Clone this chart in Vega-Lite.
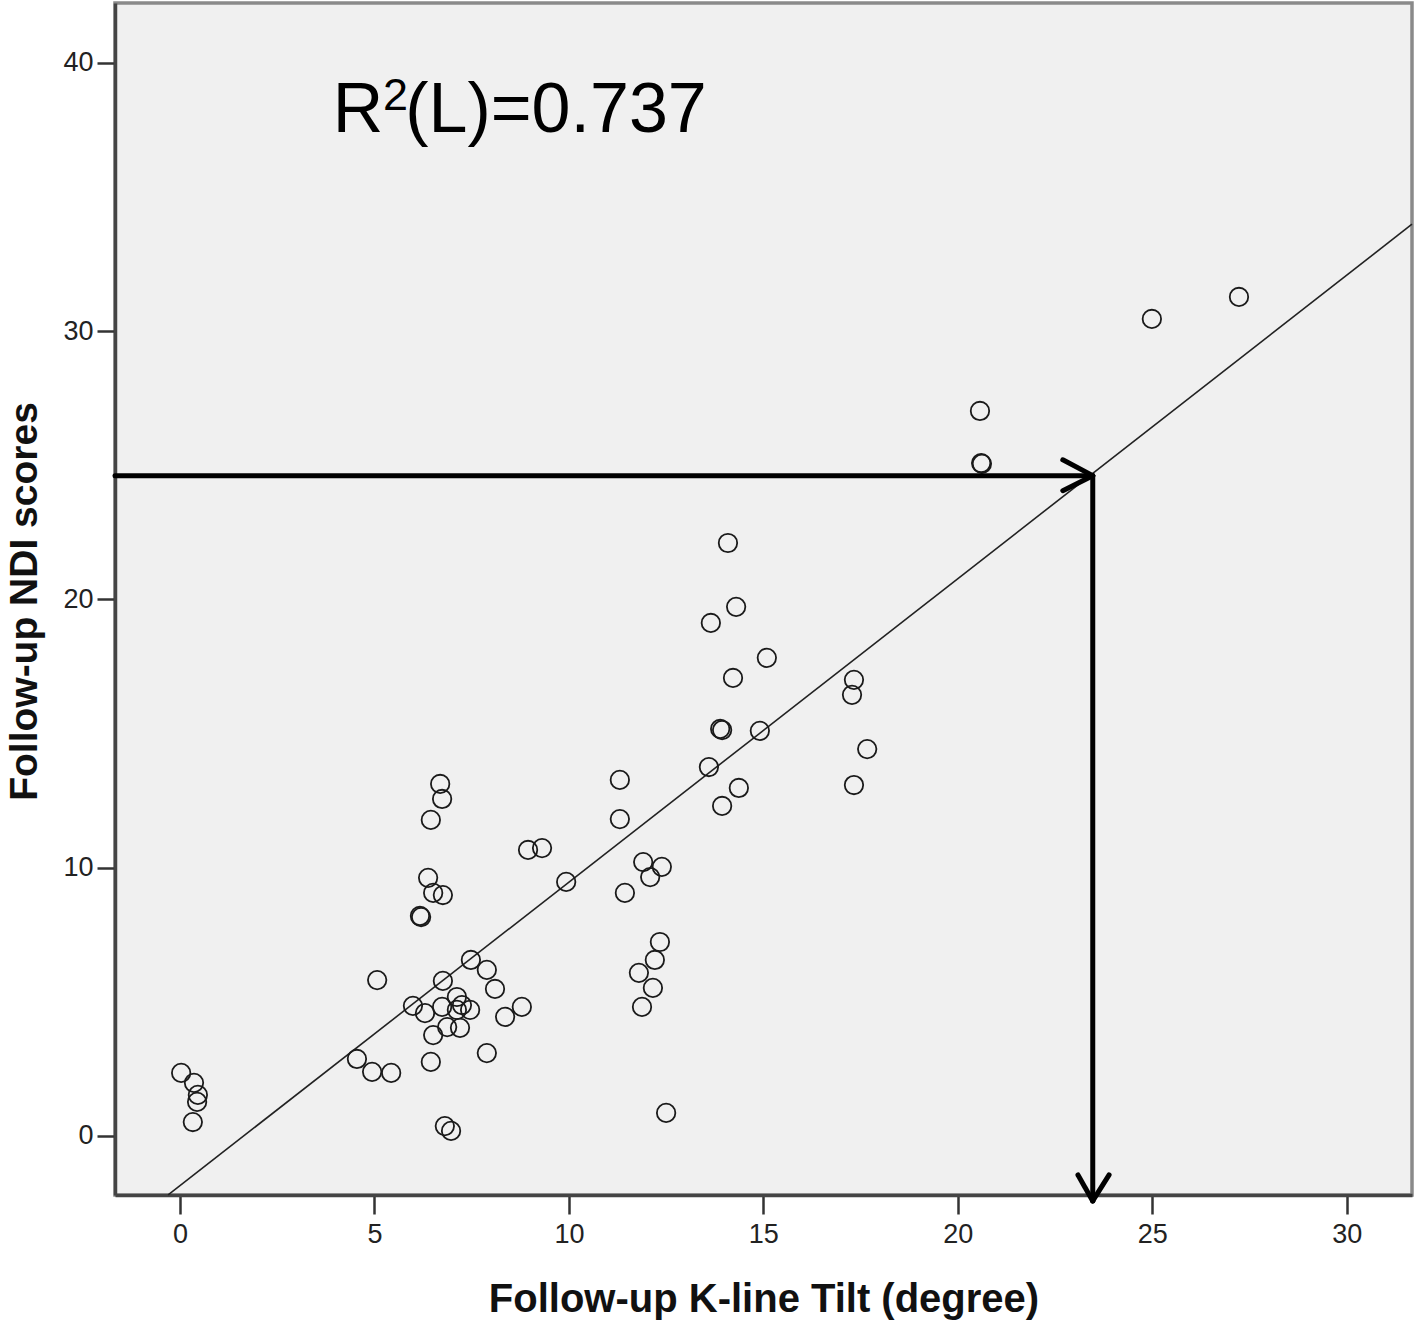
{
  "$schema": "https://vega.github.io/schema/vega-lite/v6.json",
  "width": 1297,
  "height": 1192,
  "autosize": {"type": "none"},
  "padding": {"left": 115, "top": 3, "right": 6, "bottom": 125},
  "background": "white",
  "config": {
    "view": {"fill": "#f0f0f0", "stroke": "#8a8a8a", "strokeWidth": 3.5},
    "font": "Liberation Sans"
  },
  "datasets": {
    "points": [
      {"x": 27.23, "y": 31.27}, {"x": 24.99, "y": 30.45}, {"x": 20.57, "y": 27.02},
      {"x": 20.6, "y": 25.08}, {"x": 20.62, "y": 25.05}, {"x": 14.09, "y": 22.1},
      {"x": 14.3, "y": 19.72}, {"x": 13.65, "y": 19.12}, {"x": 15.09, "y": 17.82},
      {"x": 14.22, "y": 17.07}, {"x": 17.33, "y": 17.0}, {"x": 17.28, "y": 16.44},
      {"x": 13.89, "y": 15.17}, {"x": 13.94, "y": 15.13}, {"x": 14.91, "y": 15.1},
      {"x": 17.67, "y": 14.42}, {"x": 13.6, "y": 13.75}, {"x": 11.31, "y": 13.27},
      {"x": 6.69, "y": 13.12}, {"x": 17.33, "y": 13.08}, {"x": 14.37, "y": 12.97},
      {"x": 6.74, "y": 12.56}, {"x": 13.94, "y": 12.3}, {"x": 6.45, "y": 11.78},
      {"x": 11.31, "y": 11.81}, {"x": 8.95, "y": 10.66}, {"x": 9.31, "y": 10.73},
      {"x": 9.93, "y": 9.47}, {"x": 11.91, "y": 10.21}, {"x": 12.39, "y": 10.03},
      {"x": 12.09, "y": 9.65}, {"x": 6.38, "y": 9.62}, {"x": 6.51, "y": 9.06},
      {"x": 6.76, "y": 8.98}, {"x": 11.44, "y": 9.06}, {"x": 6.17, "y": 8.2},
      {"x": 6.2, "y": 8.16}, {"x": 7.48, "y": 6.56}, {"x": 12.34, "y": 7.23},
      {"x": 7.89, "y": 6.19}, {"x": 12.21, "y": 6.56}, {"x": 6.76, "y": 5.78},
      {"x": 5.07, "y": 5.81}, {"x": 11.8, "y": 6.08}, {"x": 8.1, "y": 5.48},
      {"x": 12.16, "y": 5.52}, {"x": 5.99, "y": 4.85}, {"x": 8.79, "y": 4.81},
      {"x": 8.36, "y": 4.44}, {"x": 11.88, "y": 4.81}, {"x": 6.3, "y": 4.58},
      {"x": 6.74, "y": 4.81}, {"x": 7.12, "y": 5.18}, {"x": 7.12, "y": 4.7},
      {"x": 7.25, "y": 4.88}, {"x": 7.46, "y": 4.7}, {"x": 7.2, "y": 4.03},
      {"x": 6.87, "y": 4.06}, {"x": 6.51, "y": 3.76}, {"x": 7.89, "y": 3.09},
      {"x": 6.45, "y": 2.76}, {"x": 4.55, "y": 2.87}, {"x": 4.94, "y": 2.39},
      {"x": 5.43, "y": 2.35}, {"x": 6.81, "y": 0.37}, {"x": 6.97, "y": 0.19},
      {"x": 12.5, "y": 0.86}, {"x": 0.03, "y": 2.35}, {"x": 0.36, "y": 1.98},
      {"x": 0.46, "y": 1.53}, {"x": 0.44, "y": 1.27}, {"x": 0.33, "y": 0.52}
    ],
    "fit": [{"x": -0.305, "y": -2.195, "x2": 31.679, "y2": 33.98}],
    "arrows": [
      {"x": -1.671, "y": 24.61, "x2": 23.47, "y2": 24.61},
      {"x": 23.47, "y": 24.61, "x2": 23.47, "y2": -2.42},
      {"x": 22.7, "y": 25.2, "x2": 23.47, "y2": 24.61},
      {"x": 22.7, "y": 24.05, "x2": 23.47, "y2": 24.61},
      {"x": 23.09, "y": -1.45, "x2": 23.47, "y2": -2.42},
      {"x": 23.89, "y": -1.45, "x2": 23.47, "y2": -2.42}
    ]
  },
  "encoding": {
    "x": {
      "field": "x",
      "type": "quantitative",
      "scale": {"domain": [-1.671, 31.679], "nice": false, "zero": false},
      "axis": {
        "values": [0, 5, 10, 15, 20, 25, 30],
        "title": "Follow-up K-line Tilt (degree)",
        "titleFontSize": 40,
        "titleFontWeight": "bold",
        "titleColor": "#111",
        "titleBaseline": "alphabetic",
        "titleY": 116,
        "titleX": 648.5,
        "titleAlign": "center",
        "labelFontSize": 27,
        "labelColor": "#222",
        "labelPadding": 7,
        "tickSize": 19,
        "tickWidth": 2.5,
        "tickColor": "#333",
        "domainColor": "#444",
        "domainWidth": 3.5,
        "grid": false
      }
    },
    "y": {
      "field": "y",
      "type": "quantitative",
      "scale": {"domain": [-2.199, 42.225], "nice": false, "zero": false},
      "axis": {
        "values": [0, 10, 20, 30, 40],
        "title": "Follow-up NDI scores",
        "titleFontSize": 39,
        "titleFontWeight": "bold",
        "titleColor": "#111",
        "titleAngle": 270,
        "titleBaseline": "alphabetic",
        "titleAlign": "center",
        "titleX": -79,
        "titleY": 598,
        "labelFontSize": 27,
        "labelColor": "#222",
        "labelPadding": 4,
        "tickSize": 18,
        "tickWidth": 2.5,
        "tickColor": "#333",
        "domainColor": "#444",
        "domainWidth": 3.5,
        "grid": false
      }
    }
  },
  "layer": [
    {
      "data": {"name": "fit"},
      "mark": {"type": "rule", "color": "#222", "strokeWidth": 1.6},
      "encoding": {"x2": {"field": "x2"}, "y2": {"field": "y2"}}
    },
    {
      "data": {"name": "points"},
      "mark": {"type": "point", "shape": "circle", "filled": false, "color": "#1a1a1a", "strokeWidth": 1.8, "size": 340, "opacity": 1}
    },
    {
      "data": {"name": "arrows"},
      "mark": {"type": "rule", "color": "#000", "strokeWidth": 5, "strokeCap": "round"},
      "encoding": {"x2": {"field": "x2"}, "y2": {"field": "y2"}}
    },
    {
      "data": {"values": [{"x": 3.93, "y": 37.42, "t": "R"}]},
      "mark": {"type": "text", "fontSize": 70, "align": "left", "baseline": "alphabetic", "color": "#000"},
      "encoding": {"text": {"field": "t"}}
    },
    {
      "data": {"values": [{"x": 5.22, "y": 38.24, "t": "2"}]},
      "mark": {"type": "text", "fontSize": 45, "align": "left", "baseline": "alphabetic", "color": "#000"},
      "encoding": {"text": {"field": "t"}}
    },
    {
      "data": {"values": [{"x": 5.79, "y": 37.42, "t": "(L)=0.737"}]},
      "mark": {"type": "text", "fontSize": 70, "align": "left", "baseline": "alphabetic", "color": "#000"},
      "encoding": {"text": {"field": "t"}}
    }
  ]
}
